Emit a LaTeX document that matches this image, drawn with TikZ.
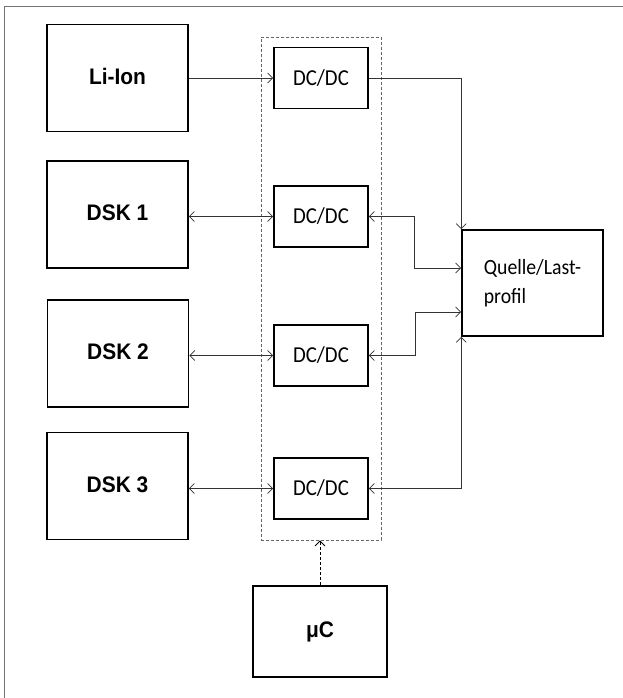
\documentclass[tikz,border=0pt]{standalone}
\usepackage{fontspec}
\newfontfamily\arialfont[FakeStretch=0.93]{Liberation Sans}
\newfontfamily\calfont[FakeStretch=0.91]{Carlito}
\usetikzlibrary{arrows.meta}
\begin{document}
\begin{tikzpicture}[x=1pt,y=-1pt,
  bigbox/.style={draw,line width=1.6pt,minimum width=141pt,minimum height=107pt,inner sep=0pt,
    font=\arialfont\bfseries\fontsize{22.5}{26}\selectfont},
  dcbox/.style={draw,line width=1.6pt,minimum width=94pt,minimum height=61pt,inner sep=0pt,
    font=\calfont\fontsize{22.8}{26}\selectfont},
  conn/.style={line width=0.8pt,draw=black!80,
    arrows={-Straight Barb[length=5pt,width=10pt]}},
  bconn/.style={line width=0.8pt,draw=black!80,
    arrows={Straight Barb[length=5pt,width=10pt]-Straight Barb[length=5pt,width=10pt]}},
  ctrlbox/.style={draw=black!60,line width=0.8pt,dash pattern=on 3pt off 2pt,
    minimum width=120pt,minimum height=503pt,inner sep=0pt},
  frameline/.style={draw=black!55,line width=1.5pt}
]
\useasboundingbox (0,0) rectangle (623,698);
\draw[frameline] (4.5,698) -- (4.5,6.5) -- (623,6.5);

% storage boxes
\node[bigbox] (li) at (117.5,78) {\raisebox{3pt}{Li-Ion}};
\node[bigbox] (d1) at (117.5,214.5) {\raisebox{3pt}{DSK 1}};
\node[bigbox] (d2) at (118,353.5) {\raisebox{3pt}{DSK 2}};
\node[bigbox] (d3) at (117.5,486) {\raisebox{3pt}{DSK 3}};

% converter group
\node[ctrlbox] (ctrl) at (321,288.5) {};
\node[dcbox] (c1) at (321,78) {DC/DC};
\node[dcbox] (c2) at (321,216.5) {DC/DC};
\node[dcbox] (c3) at (321,355.5) {DC/DC};
\node[dcbox] (c4) at (321,488.5) {DC/DC};

% source/load profile
\node[draw,line width=1.6pt,minimum width=141pt,minimum height=106pt,inner sep=0pt,
  align=left,font=\calfont\fontsize{21.7}{29}\selectfont] (q) at (532.5,283) {Quelle/Last-\\profil};

% microcontroller
\node[bigbox,minimum width=134pt,minimum height=91pt] (mc) at (320,631.5) {μC};

% connectors left
\draw[conn] (li.east |- c1.west) -- (c1.west);
\draw[bconn] (d1.east |- c2.west) -- (c2.west);
\draw[bconn] (d2.east |- c3.west) -- (c3.west);
\draw[bconn] (d3.east |- c4.west) -- (c4.west);

% connectors right
\draw[conn] (c1.east) -| (q.north west);
\draw[bconn] (c2.east) -- ++(46,0) |- ([yshift=15pt]q.west);
\draw[bconn] (c3.east) -- ++(47,0) |- ([yshift=-29pt]q.west);
\draw[bconn] (c4.east) -| (q.south west);

% control
\draw[line width=0.8pt,dash pattern=on 3pt off 2pt,arrows={-Straight Barb[length=5pt,width=10pt]}]
  (mc.north) -- (mc.north |- ctrl.south);
\end{tikzpicture}
\end{document}
